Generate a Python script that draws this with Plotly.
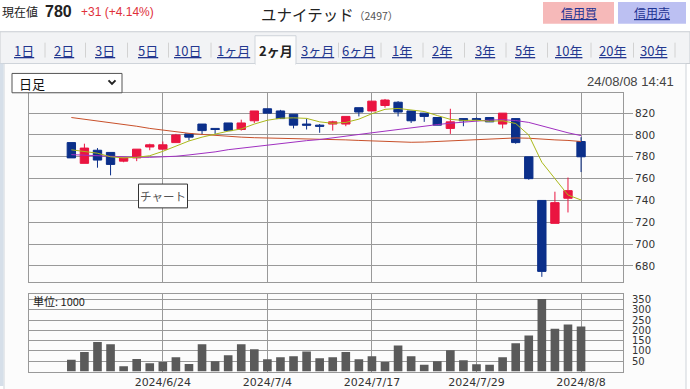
import plotly.graph_objects as go

# ---------------- data ----------------
dates = ["2024/6/13", "2024/6/14", "2024/6/17", "2024/6/18", "2024/6/19", "2024/6/20", "2024/6/21",
         "2024/6/24", "2024/6/25", "2024/6/26", "2024/6/27", "2024/6/28", "2024/7/1", "2024/7/2",
         "2024/7/3", "2024/7/4", "2024/7/5", "2024/7/8", "2024/7/9", "2024/7/10", "2024/7/11",
         "2024/7/12", "2024/7/16", "2024/7/17", "2024/7/18", "2024/7/19", "2024/7/22", "2024/7/23",
         "2024/7/24", "2024/7/25", "2024/7/26", "2024/7/29", "2024/7/30", "2024/7/31", "2024/8/1",
         "2024/8/2", "2024/8/5", "2024/8/6", "2024/8/7", "2024/8/8"]
opens = [793, 774, 786, 784, 776, 779, 789, 787, 793, 801, 810, 806, 811, 805, 813, 824, 822, 819, 810, 809,
         810, 810, 825, 822, 827, 830, 822, 820, 816, 806, 815, 815, 816, 810, 815, 780, 740, 719, 742, 794]
highs = [793, 792, 788, 784, 779, 787, 792, 794, 801, 801, 810, 806, 811, 814, 822, 824, 823, 819, 815, 810,
         813, 817, 825, 831, 833, 831, 822, 820, 816, 824, 815, 816, 816, 820, 815, 780, 740, 748, 761, 798]
lows = [779, 774, 770, 763, 775, 776, 786, 787, 793, 795, 800, 801, 804, 804, 811, 820, 815, 806, 805, 802,
        804, 808, 817, 822, 825, 817, 811, 812, 809, 801, 808, 813, 812, 806, 792, 759, 670, 719, 729, 766]
closes = [779, 788, 777, 773, 779, 787, 791, 791, 800, 798, 804, 805, 804, 811, 822, 820, 815, 809, 809, 808,
          812, 817, 821, 831, 832, 821, 813, 817, 809, 812, 813, 814, 812, 820, 793, 760, 675, 738, 749, 780]
volumes = [57, 95, 143, 133, 26, 61, 41, 47, 70, 37, 132, 50, 79, 132, 108, 60, 70, 74, 98, 65,
           70, 95, 60, 74, 47, 127, 74, 33, 50, 103, 55, 36, 33, 70, 137, 175, 352, 208, 228, 218]
ma5 = [786.4, 785, 783.3, 780, 779, 779.5, 781, 785, 790, 794.5, 798, 801, 803.5, 805.5, 810, 813.5, 815.3,
       815.7, 815.2, 812, 810.7, 811.5, 814.5, 819.5, 823.5, 824.3, 823.2, 821.5, 817.8, 814.3, 813.3, 813.5,
       812.5, 813, 810.5, 799.9, 775, 760, 745, 740.4]
ma25 = [782, 781.5, 781, 780.5, 779.8, 779.5, 779.5, 779.7, 780.5, 781.7, 783, 784.5, 786.5, 788, 789.5, 791,
        792.3, 793.6, 794.8, 795.8, 797.5, 799, 800.5, 802, 803.5, 805, 807, 808.3, 809.5, 810.8, 811.8, 813,
        813.6, 814, 813.2, 811.5, 808.3, 805, 802, 799.4]
ma75 = [816, 814.5, 813, 811.5, 810, 808, 806, 804.5, 802.5, 801.5, 800.5, 799.5, 798.5, 798, 797.5, 797.3,
        797, 796.8, 796.5, 796, 795.7, 795.5, 795, 794.5, 794, 793.5, 793.3, 793.5, 794, 794.5, 795, 796,
        796.5, 797, 797.3, 797, 796, 795.5, 795, 794]
price_ticks = [680, 700, 720, 740, 760, 780, 800, 820]
vol_ticks = [50, 100, 150, 200, 250, 300, 350]
date_ticks = ["2024/6/24", "2024/7/4", "2024/7/17", "2024/7/29", "2024/8/8"]
tab_labels = ["1日", "2日", "3日", "5日", "10日", "1ヶ月", "2ヶ月", "3ヶ月", "6ヶ月",
              "1年", "2年", "3年", "5年", "10年", "20年", "30年"]
selected_tab = "2ヶ月"

# ---------------- layout helpers ----------------
W, H = 690, 389


def px(x):
    return x / W


def py(y):
    return 1 - y / H


JP = "Noto Sans CJK JP"
UP = "#ea1540"
DOWN = "#0b2f8a"
GRID = "#999999"

fig = go.Figure()

fig.add_trace(go.Candlestick(
    x=dates, open=opens, high=highs, low=lows, close=closes,
    increasing=dict(line=dict(color=UP, width=1), fillcolor=UP),
    decreasing=dict(line=dict(color=DOWN, width=1), fillcolor=DOWN),
    whiskerwidth=0, xaxis="x", yaxis="y", hoverinfo="skip", showlegend=False))

fig.add_trace(go.Scatter(x=dates, y=ma75, mode="lines", line=dict(color="#c8502a", width=1),
                         xaxis="x", yaxis="y", hoverinfo="skip", showlegend=False))
fig.add_trace(go.Scatter(x=dates, y=ma25, mode="lines", line=dict(color="#a030c0", width=1),
                         xaxis="x", yaxis="y", hoverinfo="skip", showlegend=False))
fig.add_trace(go.Scatter(x=dates, y=ma5, mode="lines", line=dict(color="#aab81a", width=1),
                         xaxis="x", yaxis="y", hoverinfo="skip", showlegend=False))

fig.add_trace(go.Bar(x=dates, y=volumes, marker=dict(color="#5a5a5a", line=dict(width=0)),
                     xaxis="x2", yaxis="y2", hoverinfo="skip", showlegend=False))

xr = [-3.24, 42.21]
common_x = dict(type="category", categoryorder="array", categoryarray=dates, range=xr,
                tickmode="array", tickvals=date_ticks, showgrid=True, gridcolor=GRID, gridwidth=1,
                showline=True, linecolor=GRID, linewidth=1, mirror=True, zeroline=False, fixedrange=True)

shapes = []
# tab bar background
shapes.append(dict(type="rect", xref="paper", yref="paper", x0=px(0), x1=px(690), y0=py(64), y1=py(32),
                   fillcolor="#f2f3f5", line=dict(color="#c9cdd2", width=1), layer="below"))
# main panel
shapes.append(dict(type="rect", xref="paper", yref="paper", x0=px(4), x1=px(686), y0=py(395), y1=py(64),
                   fillcolor="#fcfcfc", line=dict(color="#cfd4da", width=1), layer="below"))
# left strip
shapes.append(dict(type="rect", xref="paper", yref="paper", x0=px(0), x1=px(3.5), y0=py(389), y1=py(64),
                   fillcolor="#d6dfe9", line=dict(width=0), layer="below"))
# selected tab
shapes.append(dict(type="rect", xref="paper", yref="paper", x0=px(255), x1=px(296), y0=py(64.5), y1=py(36),
                   fillcolor="#fcfcfc", line=dict(color="#cfd4da", width=1), layer="below"))
shapes.append(dict(type="line", xref="paper", yref="paper", x0=px(255.8), x1=px(295.2), y0=py(64.4),
                   y1=py(64.4), line=dict(color="#fcfcfc", width=2), layer="below"))
# buttons
shapes.append(dict(type="rect", xref="paper", yref="paper", x0=px(543), x1=px(614), y0=py(24), y1=py(2),
                   fillcolor="#f6b9b9", line=dict(width=0), layer="below"))
shapes.append(dict(type="rect", xref="paper", yref="paper", x0=px(618), x1=px(686), y0=py(24), y1=py(2),
                   fillcolor="#bcc0f2", line=dict(width=0), layer="below"))
# dropdown
shapes.append(dict(type="rect", xref="paper", yref="paper", x0=px(12), x1=px(122), y0=py(93.5), y1=py(74),
                   fillcolor="#ffffff", line=dict(color="#555555", width=1)))
shapes.append(dict(type="path", xref="paper", yref="paper",
                   path="M %f %f L %f %f L %f %f" % (px(108.5), py(81), px(112), py(84.5), px(115.5), py(81)),
                   line=dict(color="#222222", width=2)))
# tooltip box
shapes.append(dict(type="rect", xref="paper", yref="paper", x0=px(138.5), x1=px(187.5), y0=py(209.5),
                   y1=py(185.5), fillcolor="#ffffff", line=dict(color="#333333", width=1)))

# tab separators & labels
tab_x = [24, 64, 105, 148, 187, 233, 275.5, 317, 358, 402, 442, 485, 525, 568, 612, 653]
annotations = []
for i, (lab, cx) in enumerate(zip(tab_labels, tab_x)):
    if lab == selected_tab:
        annotations.append(dict(x=px(cx), y=py(50.5), xref="paper", yref="paper", text="<b>%s</b>" % lab,
                                showarrow=False, xanchor="center", yanchor="middle",
                                font=dict(family=JP, size=13, color="#222222")))
    else:
        annotations.append(dict(x=px(cx), y=py(50.5), xref="paper", yref="paper", text="<u>%s</u>" % lab,
                                showarrow=False, xanchor="center", yanchor="middle",
                                font=dict(family=JP, size=13, color="#23378f")))
    if i < len(tab_x) - 1:
        nxt = tab_labels[i + 1]
        if lab != selected_tab and nxt != selected_tab:
            sx = (cx + tab_x[i + 1]) / 2 + 1
            shapes.append(dict(type="line", xref="paper", yref="paper", x0=px(sx), x1=px(sx), y0=py(58),
                               y1=py(43), line=dict(color="#d2d2d2", width=1)))
# right-most separator
shapes.append(dict(type="line", xref="paper", yref="paper", x0=px(675), x1=px(675), y0=py(58),
                   y1=py(43), line=dict(color="#d2d2d2", width=1)))

annotations += [
    dict(x=px(0), y=py(12), xref="paper", yref="paper", text="現在値", showarrow=False, xanchor="left",
         yanchor="middle", font=dict(family=JP, size=12, color="#222222")),
    dict(x=px(43), y=py(11.5), xref="paper", yref="paper", text="<b>780</b>", showarrow=False,
         xanchor="left", yanchor="middle", font=dict(family="Liberation Sans", size=16, color="#222222")),
    dict(x=px(79), y=py(12.5), xref="paper", yref="paper", text="+31 (+4.14%)", showarrow=False,
         xanchor="left", yanchor="middle", font=dict(family="Liberation Sans", size=12, color="#e0303a")),
    dict(x=px(259), y=py(14.5), xref="paper", yref="paper", text="ユナイテッド", showarrow=False,
         xanchor="left", yanchor="middle", font=dict(family=JP, size=15.5, color="#222222")),
    dict(x=px(352), y=py(16), xref="paper", yref="paper", text="（2497）", showarrow=False,
         xanchor="left", yanchor="middle", font=dict(family=JP, size=10.5, color="#555555")),
    dict(x=px(578.5), y=py(13), xref="paper", yref="paper", text="<u>信用買</u>", showarrow=False,
         xanchor="center", yanchor="middle", font=dict(family=JP, size=12, color="#1e3392")),
    dict(x=px(652), y=py(13), xref="paper", yref="paper", text="<u>信用売</u>", showarrow=False,
         xanchor="center", yanchor="middle", font=dict(family=JP, size=12, color="#1e3392")),
    dict(x=px(17), y=py(84), xref="paper", yref="paper", text="日足", showarrow=False,
         xanchor="left", yanchor="middle", font=dict(family=JP, size=13, color="#111111")),
    dict(x=px(676), y=py(82.5), xref="paper", yref="paper", text="24/08/08 14:41", showarrow=False,
         xanchor="right", yanchor="middle", font=dict(family="Liberation Sans", size=13, color="#444444")),
    dict(x=px(163), y=py(197.5), xref="paper", yref="paper", text="チャート", showarrow=False,
         xanchor="center", yanchor="middle", font=dict(family=JP, size=11.5, color="#555555")),
    dict(x=px(31), y=py(303.5), xref="paper", yref="paper", text="単位: 1000", showarrow=False,
         xanchor="left", yanchor="middle", font=dict(family=JP, size=11, color="#222222")),
]

fig.update_layout(
    width=W, height=H, autosize=False, margin=dict(l=0, r=0, t=0, b=0, pad=0),
    paper_bgcolor="#ffffff", plot_bgcolor="#ffffff", showlegend=False, boxgap=0.36, boxgroupgap=0,
    bargap=0.34, hovermode=False,
    xaxis=dict(common_x, domain=[px(29), px(623)], anchor="y", showticklabels=False, ticks="",
               rangeslider=dict(visible=False)),
    yaxis=dict(domain=[py(284), py(94)], range=[665.45, 838.2], side="right", tickmode="array",
               tickvals=price_ticks, ticks="outside", ticklen=9, tickcolor=GRID, showgrid=True,
               gridcolor=GRID, gridwidth=1, showline=True, linecolor=GRID, mirror=True, zeroline=False,
               tickfont=dict(family="DejaVu Sans", size=10.5, color="#333333"), anchor="x", fixedrange=True),
    xaxis2=dict(common_x, domain=[px(29), px(623)], anchor="y2", ticks="", showticklabels=True,
                tickfont=dict(family="DejaVu Sans", size=11, color="#333333")),
    yaxis2=dict(domain=[py(374.5), py(296)], range=[0, 377.4], side="right", tickmode="array",
                tickvals=vol_ticks, ticks="outside", ticklen=6, tickcolor="rgba(0,0,0,0)", showgrid=True,
                gridcolor=GRID, gridwidth=1, showline=True, linecolor=GRID, mirror=True, zeroline=False,
                tickfont=dict(family="DejaVu Sans", size=10, color="#333333"), anchor="x2", fixedrange=True),
    shapes=shapes, annotations=annotations,
)

fig.write_html("out.html", config=dict(displayModeBar=False, staticPlot=True))
